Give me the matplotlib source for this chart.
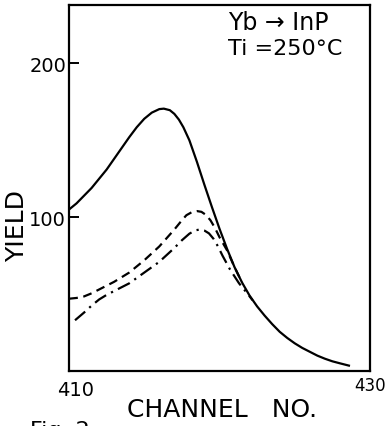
import matplotlib
matplotlib.use("Agg")
import matplotlib.pyplot as plt

plt.rcParams['font.family'] = ['DejaVu Sans']

# Data
solid_x = [410.0, 410.5, 411.0, 411.5, 412.0, 412.5, 413.0, 413.5, 414.0, 414.5, 415.0,
           415.5, 416.0, 416.3, 416.7, 417.0, 417.3, 417.6, 418.0, 418.5, 419.0, 419.5,
           420.0, 420.5, 421.0, 421.5, 422.0, 422.5, 423.0, 423.5, 424.0, 424.5, 425.0,
           425.5, 426.0, 426.5, 427.0, 427.5, 428.0, 428.6]
solid_y = [105, 109, 114, 119, 125, 131, 138, 145, 152, 158.5, 164,
           168, 170.3, 170.6, 169.6, 167.2, 163.5, 158.5, 150, 136, 121, 106.5,
           92.5, 79.5, 67.5, 57.5, 49, 42, 36, 30.5, 25.5, 21.5, 18,
           15, 12.5, 10, 8, 6.3, 5, 3.5]

dash_x = [410.0, 410.5, 411.0, 411.5, 412.0, 412.5, 413.0, 413.5, 414.0, 414.5, 415.0,
          415.5, 416.0, 416.5, 417.0, 417.5, 417.8, 418.2, 418.5, 418.8, 419.1, 419.4,
          419.7, 420.0, 420.5, 421.0, 421.5]
dash_y = [47, 47.5, 48.5, 50.5, 53, 55.5, 58, 61, 64, 68, 72,
          76.5, 81, 86.5, 92, 98, 101.3, 103.5, 104, 103.5, 101.5, 98,
          93, 87, 78.5, 67.5, 57.5]

dd_x = [410.4, 411.0, 411.5, 412.0, 412.5, 413.0, 413.5, 414.0, 414.5, 415.0, 415.5,
        416.0, 416.5, 417.0, 417.5, 418.0, 418.4, 418.7, 419.0, 419.3, 419.6, 419.9,
        420.2, 420.7, 421.3, 421.8, 422.2]
dd_y = [33, 38, 42.5, 46.5, 49.5, 52, 54.5, 57, 60.5, 64, 67.5,
        71, 75.5, 80, 85, 89.3, 91.5, 92, 91.3, 89.5, 86, 81,
        75, 66, 57, 51, 46]

yticks = [100, 200]
xticks = [410, 430]

fig = plt.figure(figsize=(3.86, 4.27), dpi=100)
ax = fig.add_axes([69/386, 55/427, 301/386, 366/427])

ax.plot(solid_x, solid_y, color='black', lw=1.6, solid_joinstyle='round')
ax.plot(dash_x, dash_y, color='black', lw=1.6, linestyle=(0, (4, 2.5)))
ax.plot(dd_x, dd_y, color='black', lw=1.6, linestyle=(0, (6, 2.5, 1, 2.5)))

ax.set_xlim(410, 430)
ax.set_ylim(0, 238)
ax.set_yticks(yticks)
ax.set_yticklabels([str(v) for v in yticks], fontsize=14)
ax.set_xticks([])
ax.tick_params(axis='y', direction='in', length=7, width=1.4, pad=2)
for s in ax.spines.values():
    s.set_linewidth(1.6)

W, H = 386, 427
def fx(px): return px / W
def fy(py): return 1 - py / H

fig.text(fx(76), fy(391), str(xticks[0]), fontsize=14, ha='center', va='center')
fig.text(fx(386), fy(386), str(xticks[1]), fontsize=12, ha='right', va='center')
fig.text(fx(17), fy(226), 'YIELD', fontsize=18, rotation=90, ha='center', va='center')
fig.text(fx(222), fy(410), 'CHANNEL   NO.', fontsize=18, ha='center', va='center')
fig.text(fx(278), fy(23), 'Yb \u2192 InP', fontsize=17, ha='center', va='center')
fig.text(fx(285), fy(49), 'Ti =250\u00b0C', fontsize=16, ha='center', va='center')
fig.text(fx(30), fy(421), 'Fig. 2', fontsize=16, ha='left', va='top')

fig.savefig('out.png', dpi=100)
